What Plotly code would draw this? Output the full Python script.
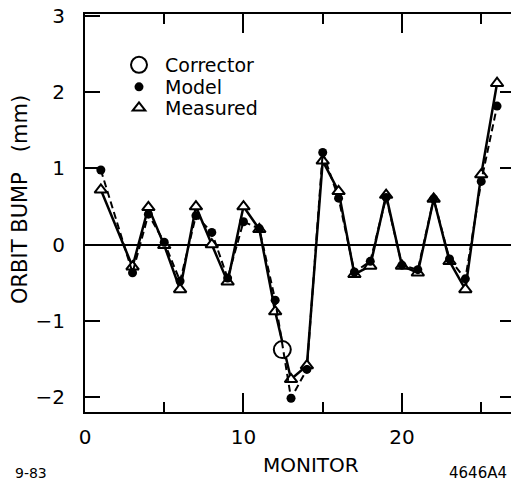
import plotly.graph_objects as go

# Orbit bump per beam position monitor
monitor = [1, 3, 4, 5, 6, 7, 8, 9, 10, 11, 12, 13, 14, 15, 16, 17, 18, 19, 20, 21, 22, 23, 24, 25, 26]
model = [0.98, -0.37, 0.40, 0.03, -0.48, 0.38, 0.16, -0.44, 0.30, 0.21, -0.73, -2.02, -1.64,
         1.21, 0.61, -0.36, -0.22, 0.62, -0.27, -0.33, 0.60, -0.19, -0.45, 0.83, 1.82]
measured = [0.72, -0.29, 0.49, -0.01, -0.59, 0.50, 0.00, -0.49, 0.50, 0.20, -0.88, -1.77, -1.59,
            1.10, 0.70, -0.39, -0.28, 0.65, -0.28, -0.37, 0.60, -0.22, -0.59, 0.92, 2.12]
corrector_monitor = [12.45]
corrector_bump = [-1.38]

x_ticks = [0, 10, 20]
y_ticks = [-2, -1, 0, 1, 2, 3]

W, H = 511, 485
L, R, T, B = 85, 0, 14, 73
FONT = "DejaVu Sans"


def px(xp):
    return (xp - L) / (W - L - R)


def py(yp):
    return (H - B - yp) / (H - T - B)


fig = go.Figure()

# connecting lines first, markers drawn over them
fig.add_trace(go.Scatter(x=monitor, y=model, mode="lines", showlegend=False, xaxis="x2",
                         line=dict(color="black", width=2, dash="7px,4px"), hoverinfo="skip"))
fig.add_trace(go.Scatter(x=monitor, y=measured, mode="lines", showlegend=False,
                         line=dict(color="black", width=2.5), hoverinfo="skip"))
fig.add_trace(go.Scatter(x=monitor, y=measured, mode="markers", name=" Measured", legend="legend3",
                         marker=dict(symbol="triangle-up", size=11, color="white",
                                     line=dict(color="black", width=2))))
fig.add_trace(go.Scatter(x=monitor, y=model, mode="markers", name=" Model", legend="legend2",
                         marker=dict(symbol="circle", size=9, color="black",
                                     line=dict(color="black", width=0))))
fig.add_trace(go.Scatter(x=corrector_monitor, y=corrector_bump, mode="markers", name=" Corrector",
                         legend="legend", yaxis="y2",
                         marker=dict(symbol="circle", size=17, color="white",
                                     line=dict(color="black", width=2))))

legend_common = dict(font=dict(family=FONT, size=19, color="black"), bgcolor="rgba(0,0,0,0)",
                     borderwidth=0, xanchor="left", yanchor="middle", itemclick=False)

x_tick_style = dict(tickmode="array", tickvals=x_ticks, ticks="inside", ticklen=19, tickwidth=1.5,
                    tickcolor="black",
                    minor=dict(dtick=5, ticks="inside", ticklen=10, tickwidth=1.5,
                               tickcolor="black", showgrid=False))

fig.update_layout(
    width=W, height=H,
    margin=dict(l=L, r=R, t=T, b=B),
    paper_bgcolor="white", plot_bgcolor="white",
    font=dict(family=FONT, color="black"),
    legend=dict(x=px(119), y=py(65), **legend_common),
    legend2=dict(x=px(119), y=py(87), **legend_common),
    legend3=dict(x=px(119), y=py(108), **legend_common),
    xaxis=dict(
        range=[0, 26.88], showgrid=False, zeroline=False,
        showline=True, linecolor="black", linewidth=2, mirror=True,
        ticklabelstandoff=6,
        tickfont=dict(family=FONT, size=20, color="black"),
        **x_tick_style,
    ),
    xaxis2=dict(
        matches="x", overlaying="x", side="top", showgrid=False, zeroline=False,
        showline=False, showticklabels=False, **x_tick_style,
    ),
    yaxis=dict(
        range=[-2.2, 3.03], showgrid=False,
        zeroline=True, zerolinecolor="black", zerolinewidth=2,
        showline=True, linecolor="black", linewidth=2, mirror=False,
        tickmode="array", tickvals=y_ticks, ticks="inside", ticklen=15, tickwidth=1.5,
        tickcolor="black", ticklabelstandoff=14,
        tickfont=dict(family=FONT, size=20, color="black"),
    ),
    yaxis2=dict(
        matches="y", overlaying="y", side="right", showgrid=False, zeroline=False,
        showline=False, tickmode="array", tickvals=y_ticks[:-1], ticks="inside", ticklen=11,
        tickwidth=1.5, tickcolor="black", showticklabels=False,
    ),
)

annotations = [
    dict(text="ORBIT BUMP   (mm)", x=px(20), y=py(200), textangle=-90, font=dict(size=21)),
    dict(text="MONITOR", x=px(311), y=py(465), font=dict(size=20)),
    dict(text="9-83", x=px(31), y=py(473), font=dict(size=14)),
    dict(text="4646A4", x=px(447), y=py(473), xanchor="left", font=dict(size=15)),
]
for a in annotations:
    a.setdefault("xanchor", "center")
    fig.add_annotation(xref="paper", yref="paper", showarrow=False, yanchor="middle",
                       font=dict(family=FONT, color="black", size=a.pop("font")["size"]), **a)

fig.write_html("out.html")
